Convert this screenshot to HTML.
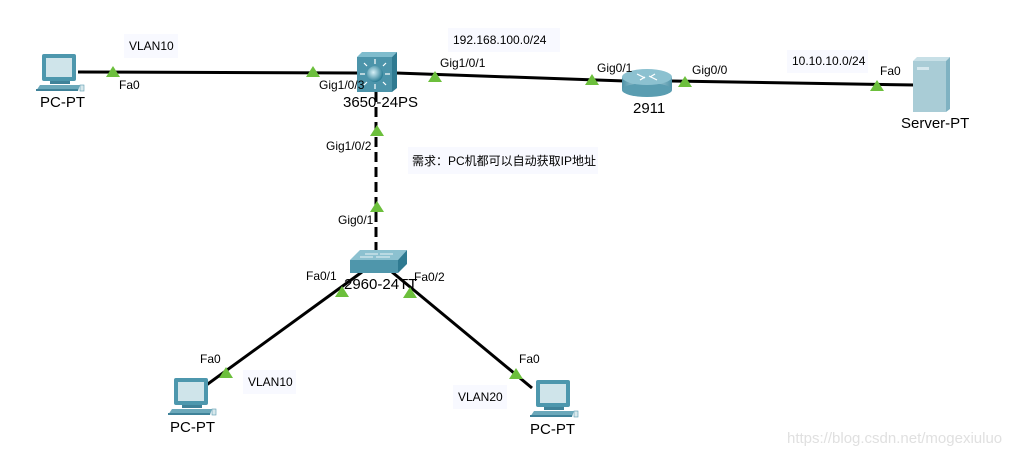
<!DOCTYPE html>
<html><head><meta charset="utf-8"><style>
html,body{margin:0;padding:0;background:#fff;}
svg{display:block;}
text{font-family:"Liberation Sans","Noto Sans CJK SC",sans-serif;font-size:12px;fill:#000;}
text.dev{font-size:15px;}
</style></head><body>
<svg width="1023" height="456" viewBox="0 0 1023 456" xmlns="http://www.w3.org/2000/svg">
<defs>
<linearGradient id="cyl" x1="0" x2="1" y1="0" y2="0">
<stop offset="0" stop-color="#4f93a8"/><stop offset="0.5" stop-color="#d8eef3"/><stop offset="1" stop-color="#4f93a8"/>
</linearGradient>
<radialGradient id="ball" cx="0.4" cy="0.4" r="0.6"><stop offset="0" stop-color="#d6f0f7"/><stop offset="1" stop-color="#2d7f97"/></radialGradient>
<g id="pc">
<rect x="6" y="0" width="34" height="27" rx="2" fill="#4d97ad"/>
<rect x="10" y="4" width="26" height="19" fill="#cfe4ea"/>
<rect x="14" y="27" width="20" height="3" fill="#3f8299"/>
<polygon points="0,37 4,31 44,31 42,37" fill="#6ba8ba"/>
<rect x="0" y="35" width="42" height="2" fill="#3f8299"/>
<rect x="44" y="31" width="4" height="6" fill="#d8e8ec" stroke="#5a9bb0" stroke-width="0.6"/>
</g>
<polygon id="tri" points="-7,5 7,5 0,-6" fill="#6cbf3c"/>
</defs>

<rect x="124" y="34" width="54" height="24" fill="#f8f9ff"/>
<rect x="448" y="28" width="112" height="24" fill="#f8f9ff"/>
<rect x="787" y="50" width="81" height="23" fill="#f8f9ff"/>
<rect x="408" y="147" width="190" height="27" fill="#f8f9ff"/>
<rect x="243" y="370" width="53" height="24" fill="#f8f9ff"/>
<rect x="453" y="385" width="54" height="24" fill="#f8f9ff"/>

<g stroke="#000" stroke-width="3" fill="none">
<line x1="78" y1="72" x2="358" y2="73"/>
<line x1="396" y1="73" x2="625" y2="81"/>
<line x1="672" y1="81" x2="915" y2="85"/>
<line x1="376" y1="92" x2="376" y2="250" stroke-dasharray="10,5"/>
<line x1="362" y1="272" x2="205" y2="386"/>
<line x1="392" y1="272" x2="532" y2="388"/>
</g>

<use href="#pc" x="36" y="54"/>
<use href="#pc" x="168" y="378"/>
<use href="#pc" x="530" y="380"/>

<polygon points="357,57 362,52 397,52 392,57" fill="#7fbccd"/>
<polygon points="392,57 397,52 397,88 392,92" fill="#2f7a91"/>
<rect x="357" y="57" width="35" height="35" fill="#4c94aa"/>
<circle cx="375" cy="74" r="8" fill="url(#ball)"/>
<g stroke="#fff" stroke-width="1.2">
<line x1="375" y1="59" x2="375" y2="64"/><line x1="375" y1="84" x2="375" y2="89"/>
<line x1="360" y1="74" x2="365" y2="74"/><line x1="385" y1="74" x2="390" y2="74"/>
<line x1="364" y1="63" x2="367" y2="66"/><line x1="386" y1="63" x2="383" y2="66"/>
<line x1="364" y1="85" x2="367" y2="82"/><line x1="386" y1="85" x2="383" y2="82"/>
</g>

<rect x="622" y="77" width="50" height="13" fill="url(#cyl)"/>
<ellipse cx="647" cy="90" rx="25" ry="7" fill="#5a9db1"/>
<ellipse cx="647" cy="77" rx="25" ry="8" fill="#8cc1d0"/>
<g stroke="#fff" stroke-width="1.2"><line x1="637" y1="74" x2="645" y2="78"/><line x1="649" y1="76" x2="657" y2="80"/><line x1="640" y1="80" x2="645" y2="77"/><line x1="650" y1="77" x2="655" y2="74"/></g>

<polygon points="913,61 917,57 950,57 946,61" fill="#c8e0e7"/>
<polygon points="946,61 950,57 950,109 946,112" fill="#7fb2c2"/>
<rect x="913" y="61" width="33" height="51" fill="#a9ccd6"/>
<rect x="917" y="67" width="12" height="3" fill="#d6e8ee"/>

<polygon points="350,260 360,250 407,250 398,260" fill="#8cc1d0"/>
<polygon points="398,260 407,250 407,264 398,273" fill="#2f7a91"/>
<rect x="350" y="260" width="48" height="13" fill="#4f96ab"/>
<g stroke="#fff" stroke-width="0.8"><line x1="365" y1="254" x2="378" y2="254"/><line x1="380" y1="254" x2="393" y2="254"/><line x1="360" y1="257" x2="373" y2="257"/><line x1="376" y1="257" x2="390" y2="257"/></g>

<use href="#tri" x="113" y="72"/>
<use href="#tri" x="313" y="72"/>
<use href="#tri" x="435" y="77"/>
<use href="#tri" x="592" y="80"/>
<use href="#tri" x="685" y="82"/>
<use href="#tri" x="877" y="86"/>
<use href="#tri" x="377" y="131"/>
<use href="#tri" x="377" y="207"/>
<use href="#tri" x="342" y="292"/>
<use href="#tri" x="410" y="293"/>
<use href="#tri" x="226" y="373"/>
<use href="#tri" x="516" y="374"/>

<text x="129" y="50">VLAN10</text>
<text x="119" y="89">Fa0</text>
<text x="40" y="107" class="dev">PC-PT</text>
<text x="319" y="89">Gig1/0/3</text>
<text x="343" y="107" class="dev">3650-24PS</text>
<text x="440" y="67">Gig1/0/1</text>
<text x="453" y="44">192.168.100.0/24</text>
<text x="597" y="72">Gig0/1</text>
<text x="692" y="74">Gig0/0</text>
<text x="633" y="113" class="dev">2911</text>
<text x="792" y="65">10.10.10.0/24</text>
<text x="880" y="75">Fa0</text>
<text x="901" y="128" class="dev">Server-PT</text>
<text x="326" y="150">Gig1/0/2</text>
<text x="412" y="165">需求：PC机都可以自动获取IP地址</text>
<text x="338" y="224">Gig0/1</text>
<text x="306" y="280">Fa0/1</text>
<text x="414" y="281">Fa0/2</text>
<text x="344" y="289" class="dev">2960-24TT</text>
<text x="200" y="363">Fa0</text>
<text x="248" y="386">VLAN10</text>
<text x="519" y="363">Fa0</text>
<text x="458" y="401">VLAN20</text>
<text x="170" y="432" class="dev">PC-PT</text>
<text x="530" y="434" class="dev">PC-PT</text>
<text x="787" y="443" style="font-size:15px;fill:#e0e0e0">https://blog.csdn.net/mogexiuluo</text>
</svg>
</body></html>
